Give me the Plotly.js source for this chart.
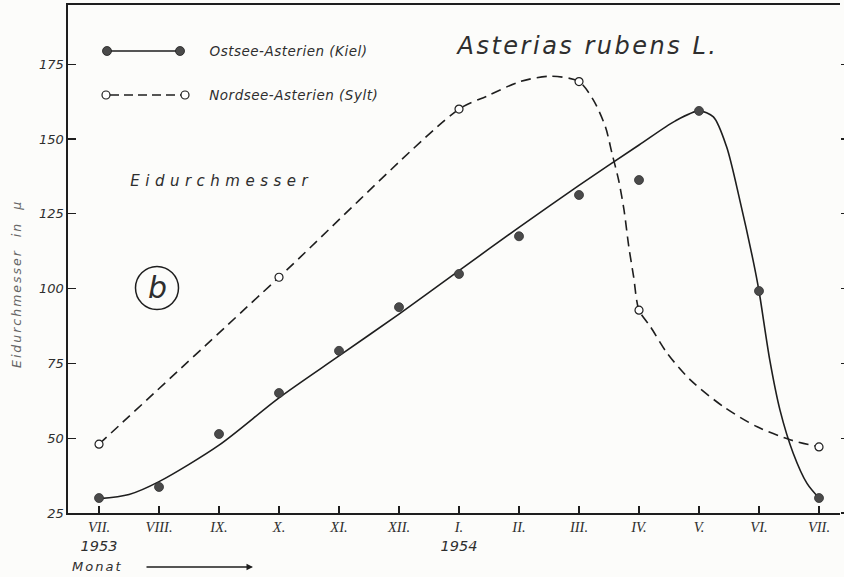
<!DOCTYPE html>
<html>
<head>
<meta charset="utf-8">
<script src="https://cdn.plot.ly/plotly-3.0.1.min.js"></script>
<style>
  html, body { margin: 0; padding: 0; background: #fcfcfa; }
  #chart { width: 844px; height: 577px; }
</style>
</head>
<body>
<div id="chart"></div>
<script>
// ---- data ----
const months = ['VII.', 'VIII.', 'IX.', 'X.', 'XI.', 'XII.', 'I.', 'II.', 'III.', 'IV.', 'V.', 'VI.', 'VII.'];
const years = ['1953', '', '', '', '', '', '1954', '', '', '', '', '', ''];

// Ostsee-Asterien (Kiel): measured points (one per month)
const ostseeMonthIdx = [0, 1, 2, 3, 4, 5, 6, 7, 8, 9, 10, 11, 12];
const ostseeValues = [30, 33.7, 51.4, 65.1, 79.2, 93.8, 104.9, 117.5, 131.3, 136.3, 159.4, 99.2, 30];

// Ostsee fitted (hand-drawn) curve
const ostseeCurveX = [0, 0.5, 1, 2, 3, 4, 5, 6, 7, 8, 9, 9.6, 10, 10.24, 10.46, 10.68, 10.9, 11, 11.18, 11.35, 11.57, 11.8, 12];
const ostseeCurveY = [29.8, 31.2, 35.5, 47.7, 63.5, 77.5, 91.5, 106, 120.5, 134.5, 148, 156, 159.4, 157.4, 147.4, 129.6, 109.6, 99.2, 76.1, 59.4, 45, 34.9, 30];

// Nordsee-Asterien (Sylt): measured points
const nordseeMonthIdx = [0, 3, 6, 8, 9, 12];
const nordseeValues = [48, 103.8, 160, 169.2, 92.8, 47.1];

// Nordsee fitted (hand-drawn) curve
const nordseeCurveX = [0, 3, 6, 6.46, 7.02, 7.52, 8, 8.24, 8.44, 8.55, 8.66, 8.75, 8.83, 8.91, 9, 9.19, 9.47, 9.86, 10.41, 10.97, 11.53, 12];
const nordseeCurveY = [48, 103.8, 160, 164.3, 169.2, 171, 169.2, 163, 154.1, 145.2, 136.3, 126.3, 114, 104, 92.8, 87.3, 78.4, 69.4, 60.5, 53.8, 49.4, 47.1];

const yTicks = [25, 50, 75, 100, 125, 150, 175];
const seriesNames = ['Ostsee-Asterien (Kiel)', 'Nordsee-Asterien (Sylt)'];
const yTitle = 'Eidurchmesser  in  μ';

// ---- styling ----
const INK = '#1e1e1e';
const TXT = '#2e2e2e';
const FONT = 'DejaVu Sans, sans-serif';
const yRange = [25, 194.8];
const xRange = [-0.517, 12.35];

const tickText = months.map((m, i) => years[i]
  ? m + '<br><span style="font-family:DejaVu Sans">' + years[i] + '</span>'
  : m);

const traces = [
  { x: ostseeCurveX, y: ostseeCurveY, mode: 'lines', type: 'scatter',
    line: { color: INK, width: 1.6, shape: 'spline', smoothing: 0.8 },
    hoverinfo: 'skip', showlegend: false },
  { x: nordseeCurveX, y: nordseeCurveY, mode: 'lines', type: 'scatter',
    line: { color: INK, width: 1.6, dash: '10px,6px', shape: 'spline', smoothing: 0.8 },
    hoverinfo: 'skip', showlegend: false },
  { x: ostseeMonthIdx, y: ostseeValues, mode: 'markers', type: 'scatter', name: seriesNames[0],
    marker: { size: 9, color: '#4a4a4a', line: { color: '#333', width: 0.8 } }, showlegend: false },
  { x: nordseeMonthIdx, y: nordseeValues, mode: 'markers', type: 'scatter', name: seriesNames[1],
    marker: { size: 8, color: '#ffffff', line: { color: INK, width: 1.2 } }, showlegend: false },
  { x: [null], y: [null], yaxis: 'y2', mode: 'markers', showlegend: false, hoverinfo: 'skip' }
];

// helpers to place decorations in paper space from pixel positions on the page
const L = 68, R = 840, T = 5, B = 513;
const px = v => (v - L) / (R - L);
const py = v => (B - v) / (B - T);

function dot(cx, cy, r, fill, lineW) {
  return { type: 'circle', xref: 'paper', yref: 'paper', xsizemode: 'pixel', ysizemode: 'pixel',
    xanchor: px(cx), yanchor: py(cy), x0: -r, x1: r, y0: -r, y1: r,
    fillcolor: fill, line: { color: INK, width: lineW }, layer: 'above' };
}

const shapes = [
  // legend: Ostsee
  { type: 'line', xref: 'paper', yref: 'paper', x0: px(107), x1: px(180), y0: py(51), y1: py(51),
    line: { color: INK, width: 1.6 } },
  dot(107, 51, 4.5, '#4a4a4a', 0.8),
  dot(180, 51, 4.5, '#4a4a4a', 0.8),
  // legend: Nordsee
  { type: 'line', xref: 'paper', yref: 'paper', x0: px(110), x1: px(181), y0: py(95), y1: py(95),
    line: { color: INK, width: 1.6, dash: '9px,5px' } },
  dot(106, 95, 4, '#ffffff', 1.2),
  dot(185, 95, 4, '#ffffff', 1.2),
  // circled (b)
  { type: 'circle', xref: 'paper', yref: 'paper', x0: px(135.5), x1: px(178.5), y0: py(309.5), y1: py(266.5),
    line: { color: INK, width: 1.5 } }
];

const annotations = [
  { text: 'Asterias rubens L.', xref: 'paper', yref: 'paper', x: px(587), y: py(46),
    showarrow: false, xanchor: 'center', yanchor: 'middle',
    font: { family: FONT, size: 24, color: TXT, style: 'italic' } },
  { text: seriesNames[0], xref: 'paper', yref: 'paper', x: px(288), y: py(51),
    showarrow: false, xanchor: 'center', yanchor: 'middle',
    font: { family: FONT, size: 13.5, color: TXT, style: 'italic' } },
  { text: seriesNames[1], xref: 'paper', yref: 'paper', x: px(293), y: py(95),
    showarrow: false, xanchor: 'center', yanchor: 'middle',
    font: { family: FONT, size: 13.5, color: TXT, style: 'italic' } },
  { text: 'Eidurchmesser', xref: 'paper', yref: 'paper', x: px(222), y: py(181),
    showarrow: false, xanchor: 'center', yanchor: 'middle',
    font: { family: FONT, size: 15, color: TXT, style: 'italic' } },
  { text: 'b', xref: 'paper', yref: 'paper', x: px(157), y: py(287),
    showarrow: false, xanchor: 'center', yanchor: 'middle',
    font: { family: FONT, size: 30, color: TXT, style: 'italic' } },
  { text: 'Monat', xref: 'paper', yref: 'paper', x: px(97), y: py(566),
    showarrow: false, xanchor: 'center', yanchor: 'middle',
    font: { family: FONT, size: 13, color: TXT, style: 'italic' } },
  { text: yTitle, xref: 'paper', yref: 'paper', x: px(16), y: py(284), textangle: -90,
    showarrow: false, xanchor: 'center', yanchor: 'middle',
    font: { family: FONT, size: 12.5, color: '#666', style: 'italic' } },
  { text: '', xref: 'paper', yref: 'paper', x: px(253), y: py(567),
    showarrow: true, ax: -108, ay: 0, arrowhead: 2, arrowsize: 1, arrowwidth: 1.3, arrowcolor: INK }
];

const layout = {
  width: 844, height: 577,
  margin: { l: L, r: 844 - R, t: T, b: 577 - B },
  paper_bgcolor: '#fcfcfa', plot_bgcolor: '#fcfcfa',
  showlegend: false,
  xaxis: {
    range: xRange, tickmode: 'array', tickvals: ostseeMonthIdx, ticktext: tickText,
    ticks: 'inside', ticklen: 7, tickwidth: 1.3, tickcolor: INK,
    showline: true, linecolor: INK, linewidth: 1.8, mirror: true,
    showgrid: false, zeroline: false,
    tickfont: { family: 'Liberation Serif, serif', size: 14.5, color: TXT, style: 'italic' }
  },
  yaxis: {
    range: yRange, tickmode: 'array', tickvals: yTicks,
    ticks: 'inside', ticklen: 8, tickwidth: 1.3, tickcolor: INK,
    showline: true, linecolor: INK, linewidth: 1.6,
    showgrid: false, zeroline: false,
    tickfont: { family: FONT, size: 13, color: TXT, style: 'italic' }
  },
  yaxis2: {
    range: yRange, overlaying: 'y', side: 'right', tickmode: 'array', tickvals: yTicks,
    ticks: 'outside', ticklen: 8, tickwidth: 1.3, tickcolor: INK,
    showline: false, showgrid: false, zeroline: false, showticklabels: false
  },
  shapes: shapes,
  annotations: annotations
};

Plotly.newPlot('chart', traces, layout, { staticPlot: true, displayModeBar: false }).then(() => {
  const spacing = ['2.5px', '0.5px', '0.5px', '5.5px', '0px', '2px', '2px'];
  const texts = document.querySelectorAll('#chart .annotation-text');
  texts.forEach((t, i) => { if (spacing[i]) t.style.letterSpacing = spacing[i]; });
});
</script>
</body>
</html>
